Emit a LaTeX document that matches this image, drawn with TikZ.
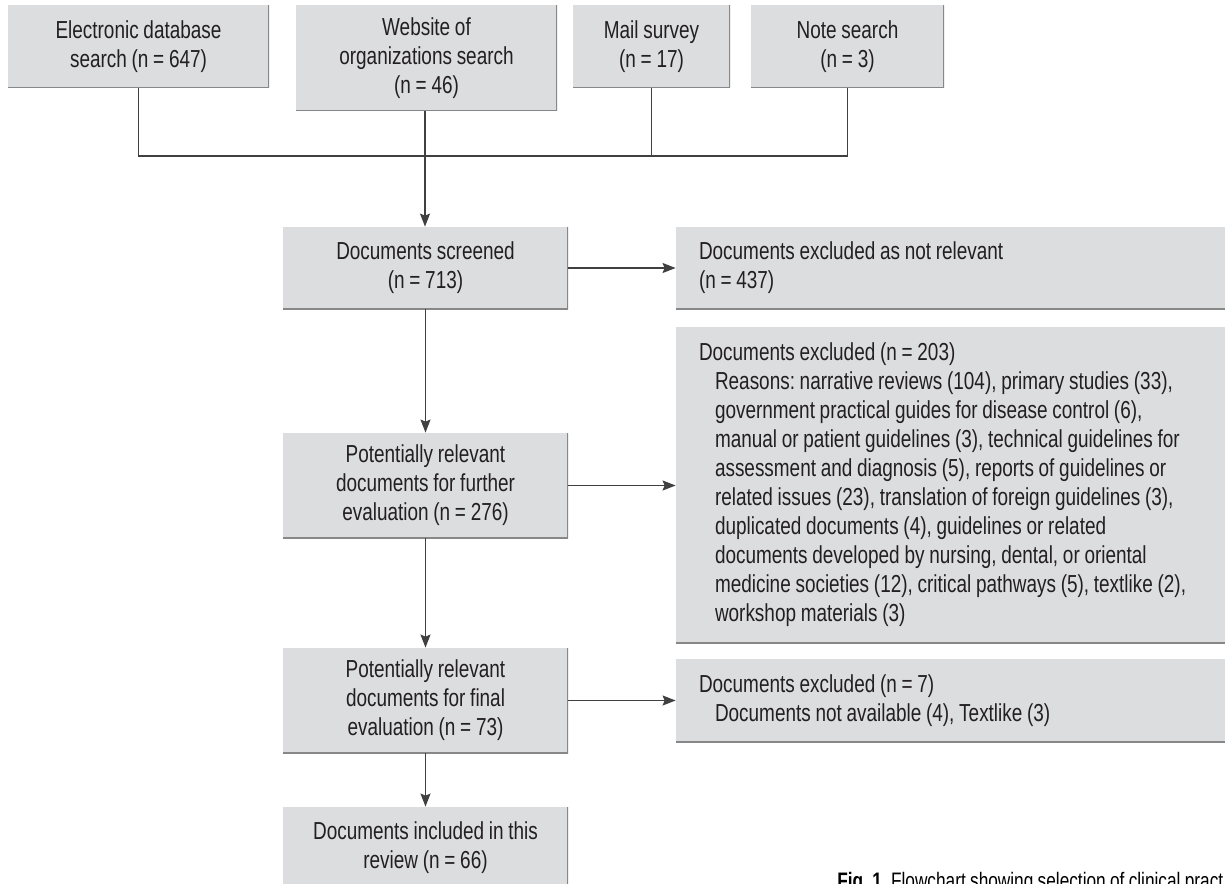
\documentclass[tikz,border=0pt]{standalone}
\usepackage{fontspec}
\setmainfont{Liberation Sans}[FakeStretch=0.77, WordSpace=0.9]
\usepackage{xcolor}
\usepackage{tikz}
\usetikzlibrary{arrows.meta, positioning}
\definecolor{boxfill}{RGB}{220,221,223}
\definecolor{boxedge}{RGB}{135,135,135}
\definecolor{linegray}{RGB}{64,64,64}
\definecolor{txt}{RGB}{35,31,32}
\frenchspacing

\begin{document}
\begin{tikzpicture}[x=0.5pt, y=-0.5pt,
    box/.style={rectangle, fill=boxfill, inner sep=0pt, align=center, text=txt,
      font=\fontsize{12.3pt}{14.5pt}\selectfont,
      path picture={\draw[boxedge, line width=1.2pt]
        (path picture bounding box.north east) -- (path picture bounding box.south east)
        -- (path picture bounding box.south west);}},
    sidebox/.style={box, align=left, text width=262pt, inner xsep=11.5pt,
      minimum width=285pt, execute at begin node={\spaceskip=0pt\xspaceskip=0pt}},
    link/.style={draw=linegray, line width=0.75pt},
    arr/.style={link, -{Stealth[length=6.5pt, width=5pt, inset=1pt]}}]
  \useasboundingbox (0,0) rectangle (1225,883);

  \node[box, minimum width=130.5pt, minimum height=41.5pt] (src1) at (138.5,46.5)
    {Electronic database\\search (n = 647)};
  \node[box, minimum width=130.5pt, minimum height=53pt] (src2) at (426.5,58)
    {Website of\\organizations search\\(n = 46)};
  \node[box, minimum width=78.5pt, minimum height=41.5pt] (src3) at (651.5,46.5)
    {Mail survey\\(n = 17)};
  \node[box, minimum width=96.5pt, minimum height=41.5pt] (src4) at (847.5,46.5)
    {Note search\\(n = 3)};
  \coordinate (bus) at (425,156);

  \node[box, minimum width=142.5pt, minimum height=41pt] (screened) at (425.5,268)
    {Documents screened\\(n = 713)};
  \node[box, minimum width=142.5pt, minimum height=52.5pt] (further) at (425.5,485.5)
    {Potentially relevant\\documents for further\\evaluation (n = 276)};
  \node[box, minimum width=142.5pt, minimum height=52.5pt] (final) at (425.5,700.5)
    {Potentially relevant\\documents for final\\evaluation (n = 73)};
  \node[box, minimum width=142.5pt, minimum height=41pt] (included) at (425.5,848)
    {Documents included in this\\review (n = 66)};

  \node[sidebox, minimum height=41pt] (excl1) at (961,268)
    {Documents excluded as not relevant\\(n = 437)};
  \node[sidebox, minimum height=158pt] (excl2) at (961,485)
    {Documents excluded (n = 203)\\
     \hspace*{8pt}\parbox[t]{252pt}{\raggedright
     Reasons: narrative reviews (104), primary studies (33),\\
     government practical guides for disease control (6),\\
     manual or patient guidelines (3), technical guidelines for\\
     assessment and diagnosis (5), reports of guidelines or\\
     related issues (23), translation of foreign guidelines (3),\\
     duplicated documents (4), guidelines or related\\
     documents developed by nursing, dental, or oriental\\
     medicine societies (12), critical pathways (5), textlike (2),\\
     workshop materials (3)}};
  \node[sidebox, minimum height=41.5pt] (excl3) at (961,700.5)
    {Documents excluded (n = 7)\\
     \hspace*{8pt}Documents not available (4), Textlike (3)};

  \draw[link] (src1.south) |- (src4.south |- bus) -- (src4.south);
  \draw[link] (src3.south) -- (src3.south |- bus);
  \draw[arr] (src2.south -| bus) -- (screened.north -| bus);
  \draw[arr] (screened) -- (further);
  \draw[arr] (further) -- (final);
  \draw[arr] (final) -- (included);
  \draw[arr] (screened.east) -- (excl1.west);
  \draw[arr] (further.east) -- (further.east -| excl2.west);
  \draw[arr] (final.east) -- (final.east -| excl3.west);

  \node[anchor=base west, inner sep=0pt, font=\fontsize{11.2pt}{13pt}\selectfont] (caption)
    at (837,888) {\textbf{Fig. 1.} Flowchart showing selection of clinical pract};
\end{tikzpicture}
\end{document}
